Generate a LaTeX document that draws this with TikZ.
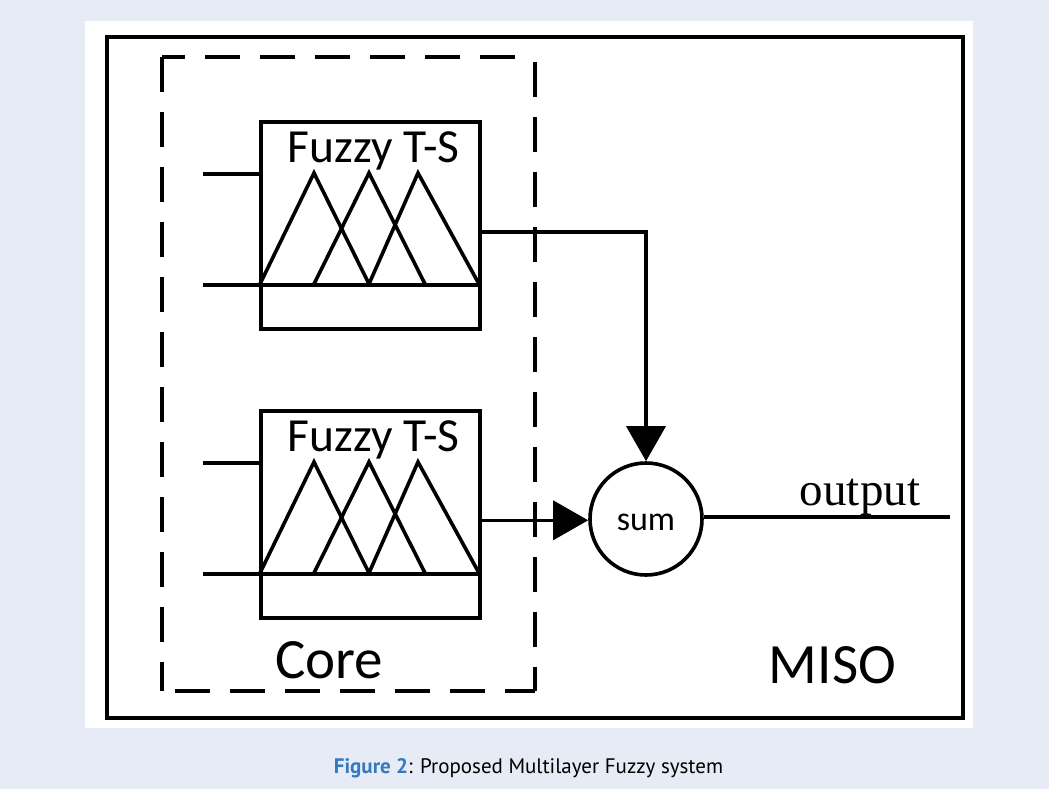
\documentclass[tikz,border=0pt]{standalone}
\usepackage{fontspec}
\setmainfont{Carlito}
\newfontfamily\serifout{Liberation Serif}
\newfontfamily\capfont{PT Sans}
\usetikzlibrary{arrows.meta,calc}
\definecolor{bgcol}{RGB}{231,235,246}
\definecolor{figblue}{RGB}{52,120,190}
\tikzset{
  ln/.style={line width=3.6pt},
  fuzzybox/.style={draw,line width=3.6pt,minimum width=219pt,minimum height=207pt,anchor=north west,inner sep=0pt},
  sumnode/.style={draw,circle,line width=3.6pt,minimum size=112pt,inner sep=0pt},
  arr/.style={line width=3.6pt,-{Triangle[length=35pt,width=39pt]}},
  dashbox/.style={line width=3.8pt,dash pattern=on 35pt off 20pt},
}
\begin{document}
\begin{tikzpicture}[x=1pt,y=-1pt]
\useasboundingbox (0,0) rectangle (1049,789);
\fill[bgcol] (0,0) rectangle (1049,789);
\fill[white] (85,21) rectangle (973,728);
% outer MISO box
\draw[line width=4pt] (107,37) rectangle (963,718);
% dashed core box
\coordinate (dTL) at (162,57);
\coordinate (dTR) at (535,57);
\coordinate (dBL) at (162,691);
\coordinate (dBR) at (535,691);
\draw[dashbox,dash phase=12pt] (dTL) -- (dTR);
\draw[dashbox] (dTL) -- (dBL);
\draw[dashbox,dash phase=5pt] (dBR) -- (dBL);
\draw[dashbox,dash phase=11pt] (dBR) -- (dTR);
% fuzzy boxes
\node[fuzzybox] (fz1) at (259,120) {};
\node[fuzzybox] (fz2) at (259,409) {};
% labels
\node[anchor=base,inner sep=0pt,font=\fontsize{47.5}{50}\selectfont] (t1) at (373.5,162) {Fuzzy T-S};
\node[anchor=base,inner sep=0pt,font=\fontsize{47.5}{50}\selectfont] (t2) at (373.5,451) {Fuzzy T-S};
% membership functions, top
\draw[ln,line join=miter] (260,284) -- (314,173) -- (369,284);
\draw[ln,line join=miter] (314,284) -- (369,173) -- (425,284);
\draw[ln,line join=miter] (369,284) -- (418,173) -- (479,284);
% membership functions, bottom
\draw[ln,line join=miter] (260,573) -- (314,462) -- (369,573);
\draw[ln,line join=miter] (314,573) -- (369,462) -- (425,573);
\draw[ln,line join=miter] (369,573) -- (418,462) -- (479,573);
% inputs
\coordinate (i1a) at (203,174);
\coordinate (i1b) at (203,285);
\coordinate (i2a) at (203,463);
\coordinate (i2b) at (203,574);
\draw[ln] (i1a) -- (i1a -| fz1.west);
\draw[ln] (i1b) -- (i1b -| fz1.east);
\draw[ln] (i2a) -- (i2a -| fz2.west);
\draw[ln] (i2b) -- (i2b -| fz2.east);
% sum
\node[sumnode] (sum) at (646,519) {};
\node[anchor=base,inner sep=0pt,font=\fontsize{34}{36}\selectfont] (sl) at (646,530) {sum};
% connectors
\coordinate (c1) at ([yshift=-6.5pt]fz1.east);
\coordinate (c2) at ([yshift=-6pt]fz2.east);
\draw[arr] (c1) -| (sum.north);
\draw[arr] (c2) -- (sum.west |- c2);
\coordinate (out) at (950,517);
\draw[ln] (sum.east |- out) -- (out);
\node[anchor=base,inner sep=0pt,font=\serifout\fontsize{47}{50}\selectfont] (ol) at (860,505) {output};
% box labels
\node[anchor=base,inner sep=0pt,font=\fontsize{57}{60}\selectfont] (core) at (329,678) {Core};
\node[anchor=base,inner sep=0pt,font=\fontsize{57}{60}\selectfont] (miso) at (832.5,683) {MISO};
% caption
\node[anchor=base,inner sep=0pt,font=\capfont\fontsize{21}{24}\selectfont] (cap) at (528.5,773) {\textcolor{figblue}{\bfseries Figure 2}: Proposed Multilayer Fuzzy system};
\end{tikzpicture}
\end{document}
